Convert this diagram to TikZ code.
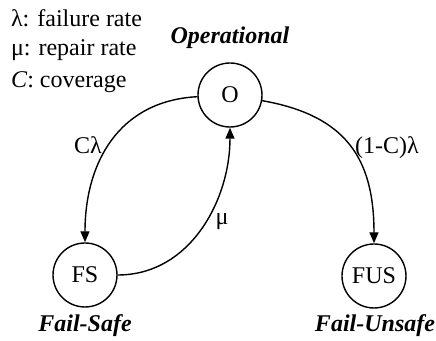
\documentclass[tikz,border=0pt]{standalone}
\usepackage{fontspec}
\setmainfont{Liberation Serif}
\usepackage{tikz}
\usetikzlibrary{arrows.meta}

\begin{document}
\begin{tikzpicture}[x=0.5pt,y=-0.5pt,font=\fontsize{12pt}{14pt}\selectfont,
  state/.style={draw,circle,line width=0.7pt,inner sep=0pt,minimum size=32pt},
  trans/.style={line width=0.7pt,-{Triangle[length=5.5pt,width=4.5pt]}},
  statename/.style={font=\fontsize{12pt}{14pt}\selectfont\bfseries\itshape}]
\useasboundingbox (0,0) rectangle (436,341);

% legend
\node[anchor=west] (leglambda) at (4,18) {λ: failure rate};
\node[anchor=west] (legmu) at (4,50) {μ: repair rate};
\node[anchor=west] (legcov) at (4,82) {\textit{C}: coverage};

% states
\node[state] (O) at (230,95) {O};
\node[state] (FS) at (85,275) {FS};
\node[state] (FUS) at (374,276) {FUS};

\node[statename] (opname) at (230,38) {Operational};
\node[statename] (fsname) at (85,326) {Fail-Safe};
\node[statename] (fusname) at (375,326) {Fail-Unsafe};

% transitions
\draw[trans] (O) to[out=183,in=90,looseness=1.1] (FS);
\node (clambda) at (88,145) {Cλ};
\draw[trans] (FS) to[out=0,in=-90] (O);
\node (mu) at (222,222) {μ};
\draw[trans] (O) to[out=-10,in=90,looseness=1.2] (FUS);
\node (uclambda) at (387,148) {(1-C)λ};
\end{tikzpicture}
\end{document}
